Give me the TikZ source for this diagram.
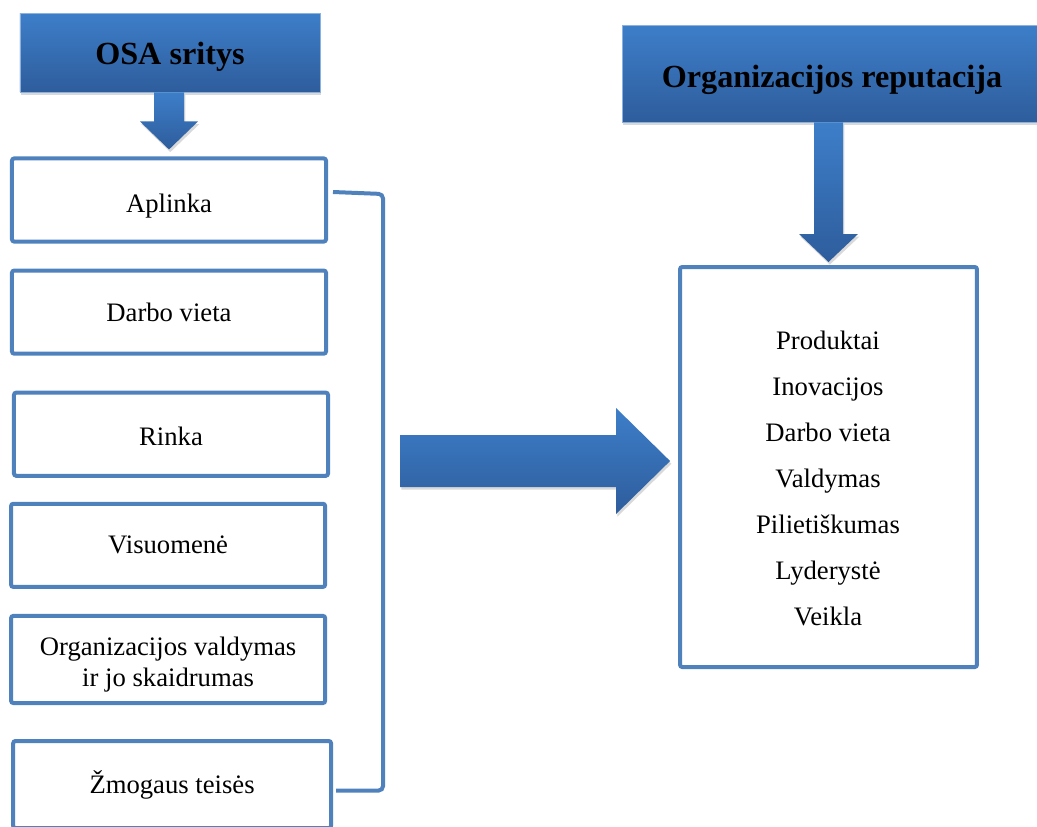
\documentclass[tikz,border=0pt]{standalone}
\usepackage{fontspec}
\setmainfont{Liberation Serif}
\usetikzlibrary{positioning,calc,shadows}

\definecolor{hdrtop}{HTML}{3D7EC9}
\definecolor{hdrbot}{HTML}{2E5D9C}
\definecolor{boxline}{HTML}{4F81BD}

\tikzset{
  header/.style={top color=hdrtop, bottom color=hdrbot, draw=hdrtop!60!white, line width=0.3pt,
    font=\fontsize{14.5}{17}\selectfont\bfseries,
    drop shadow={opacity=0.3, shadow xshift=0.6pt, shadow yshift=-1.2pt}},
  area/.style={draw=boxline, line width=1.8pt, rounded corners=1pt, fill=white,
    minimum width=141.3pt, minimum height=37.4pt, align=center, font=\fontsize{12}{14}\selectfont},
  blockarrow/.style={top color=hdrtop, bottom color=hdrbot,
    drop shadow={opacity=0.3, shadow xshift=0.6pt, shadow yshift=-1.2pt}},
  bracket/.style={draw=boxline, line width=1.8pt, rounded corners=2pt}
}

\begin{document}
\begin{tikzpicture}[x=0.45pt, y=-0.45pt]
  \useasboundingbox (0,0) rectangle (1037,826);

  % OSA sritys column
  \node[header, minimum width=135pt, minimum height=35.5pt, text height=14.3pt, text depth=3.1pt] (osa) at (170,52.5) {OSA sritys};
  \node[area, text height=13.6pt, text depth=2.6pt] (aplinka) at (169,200) {Aplinka};
  \node[area, below=11.25pt of aplinka] (darbas) {Darbo vieta};
  \node[area, below=15.75pt of darbas, xshift=0.9pt, text height=10pt, text depth=0pt] (rinka) {Rinka};
  \node[area, below=10.8pt of rinka, xshift=-1.3pt] (visuomene) {Visuomenė};
  \node[area, below=11.25pt of visuomene, minimum height=39.2pt, text height=26.7pt, text depth=2.6pt] (valdymas) {Organizacijos valdymas\\ir jo skaidrumas};
  \node[area, below=15.3pt of valdymas, minimum height=39.2pt, minimum width=143pt, xshift=1.8pt] (zmogus) {Žmogaus teisės};

  \coordinate (t1) at ($(aplinka.north)+(0,-7)$);
  \path[blockarrow] ($(t1 |- osa.south)+(-15,0)$) |- ($(t1)+(-29,-28)$) -- (t1)
    -- ($(t1)+(29,-28)$) -| ($(t1 |- osa.south)+(15,0)$) -- cycle;

  % bracket round the areas
  \draw[bracket] ($(aplinka.east)+(5,-8)$) -- ++(50,2) |- ($(zmogus.east)+(3,6)$);

  % reputation column
  \node[header, minimum width=189pt, minimum height=43.6pt, text height=15.4pt, text depth=3.1pt] (rep) at (832,73.5) {Organizacijos reputacija};
  \node[area, minimum width=133.6pt, minimum height=180pt] (repbox) at (828.5,467) {};
  \node[align=center, font=\fontsize{12}{20.7}\selectfont] (factors) at (828,478)
    {Produktai\\Inovacijos\\Darbo vieta\\Valdymas\\Pilietiškumas\\Lyderystė\\Veikla};

  \coordinate (t2) at ($(repbox.north)+(0,-3)$);
  \path[blockarrow] ($(t2 |- rep.south)+(-14.5,0)$) |- ($(t2)+(-29.5,-28)$) -- (t2)
    -- ($(t2)+(29.5,-28)$) -| ($(t2 |- rep.south)+(14.5,0)$) -- cycle;

  % big arrow to the right
  \coordinate (s3) at (400,461);
  \coordinate (t3) at ($(repbox.west)+(-8,-6)$);
  \path[blockarrow] ($(s3)+(0,-26)$) -| ($(t3)+(-54,-53)$) -- (t3)
    -- ($(t3)+(-54,53)$) |- ($(s3)+(0,26)$) -- cycle;
\end{tikzpicture}
\end{document}
